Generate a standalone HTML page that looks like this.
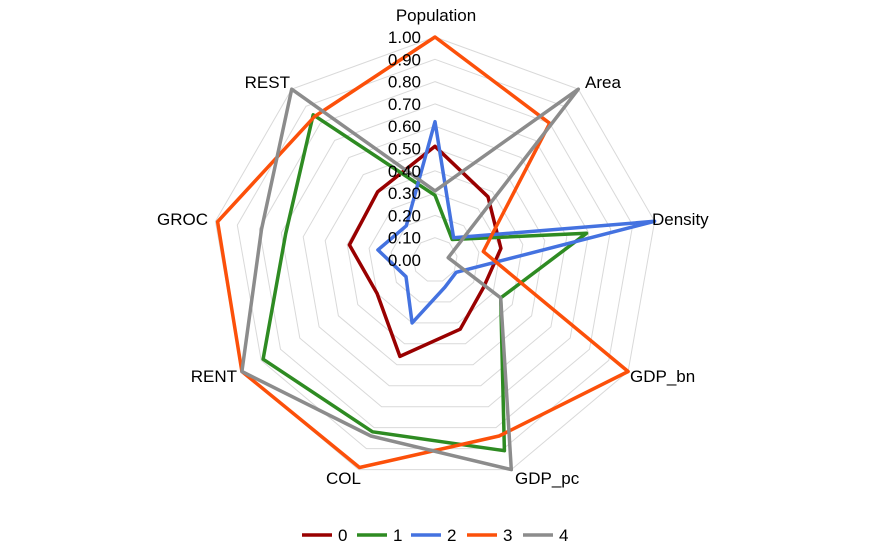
<!DOCTYPE html>
<html><head><meta charset="utf-8"><style>
body{margin:0;background:#fff;}
svg{display:block;font-family:"Liberation Sans",Arial,sans-serif;}
</style></head><body>
<svg id="chart" width="870" height="558" viewBox="0 0 870 558">
<g id="grid"></g>
<g id="series"></g>
<g id="ticks"></g>
<g id="cats"></g>
<g id="legend"></g>
</svg>
<script>
const categories = ["Population","Area","Density","GDP_bn","GDP_pc","COL","RENT","GROC","REST"];
const tickLabels = ["0.00","0.10","0.20","0.30","0.40","0.50","0.60","0.70","0.80","0.90","1.00"];
const seriesNames = ["0","1","2","3","4"];
const s0 = [0.51,0.37,0.30,0.25,0.33,0.46,0.30,0.39,0.40];
const s1 = [0.29,0.12,0.69,0.34,0.91,0.82,0.89,0.68,0.85];
const s2 = [0.62,0.13,1.00,0.11,0.13,0.30,0.15,0.26,0.20];
const s3 = [1.00,0.80,0.22,1.00,0.84,0.99,1.00,0.99,0.84];
const s4 = [0.31,1.00,0.06,0.34,1.00,0.84,1.00,0.79,1.00];
const seriesData = [s0,s1,s2,s3,s4];
const colors = ["#990000","#2e8b22","#4472e0","#fc500a","#8c8c8c"];

const NS="http://www.w3.org/2000/svg";
const cx=435, cy=260, R=223;
function ang(i){return i*2*Math.PI/categories.length;}
function px(i,v){return cx+R*v*Math.sin(ang(i));}
function py(i,v){return cy-R*v*Math.cos(ang(i));}
function mk(tag,attrs,parent){const e=document.createElementNS(NS,tag);for(const k in attrs)e.setAttribute(k,attrs[k]);parent.appendChild(e);return e;}

const grid=document.getElementById('grid');
for(let k=1;k<tickLabels.length;k++){
  const v=k/(tickLabels.length-1);
  const pts=categories.map((c,i)=>px(i,v).toFixed(1)+","+py(i,v).toFixed(1)).join(" ");
  const p=mk('polygon',{points:pts,fill:"none",stroke:"#d9d9d9","stroke-width":1},grid);
  
  
}

const sg=document.getElementById('series');
seriesData.forEach((arr,s)=>{
  const pts=arr.map((v,i)=>px(i,v).toFixed(1)+","+py(i,v).toFixed(1)).join(" ");
  const p=mk('polygon',{points:pts,fill:"none",stroke:colors[s],"stroke-width":3.5,"stroke-linejoin":"round"},sg);
  
  
});

const tg=document.getElementById('ticks');
tickLabels.forEach((t,k)=>{
  const v=k/(tickLabels.length-1);
  const e=mk('text',{x:421,y:cy-R*v+6,"text-anchor":"end","font-size":17,fill:"#000"},tg);
  e.textContent=t;
  
  
});

const cg=document.getElementById('cats');
const labelPos=[[436,21,"middle"],[585,88,"start"],[652,225,"start"],[630,382,"start"],[515,484,"start"],[361,484,"end"],[237,382,"end"],[208,225,"end"],[290,88,"end"]];
categories.forEach((c,i)=>{
  const lp=labelPos[i];
  const e=mk('text',{x:lp[0],y:lp[1],"text-anchor":lp[2],"font-size":17,fill:"#000"},cg);
  e.textContent=c;
  
  
});

const lg=document.getElementById('legend');
const lx=[302,357,411,467,523];
seriesNames.forEach((n,s)=>{
  const g=mk('g',{},lg);
  
  
  mk('line',{x1:lx[s],y1:535,x2:lx[s]+30,y2:535,stroke:colors[s],"stroke-width":3.5},g);
  const t=mk('text',{x:lx[s]+36,y:541,"font-size":17,fill:"#000"},g);
  t.textContent=n;
});
</script>
</body></html>
